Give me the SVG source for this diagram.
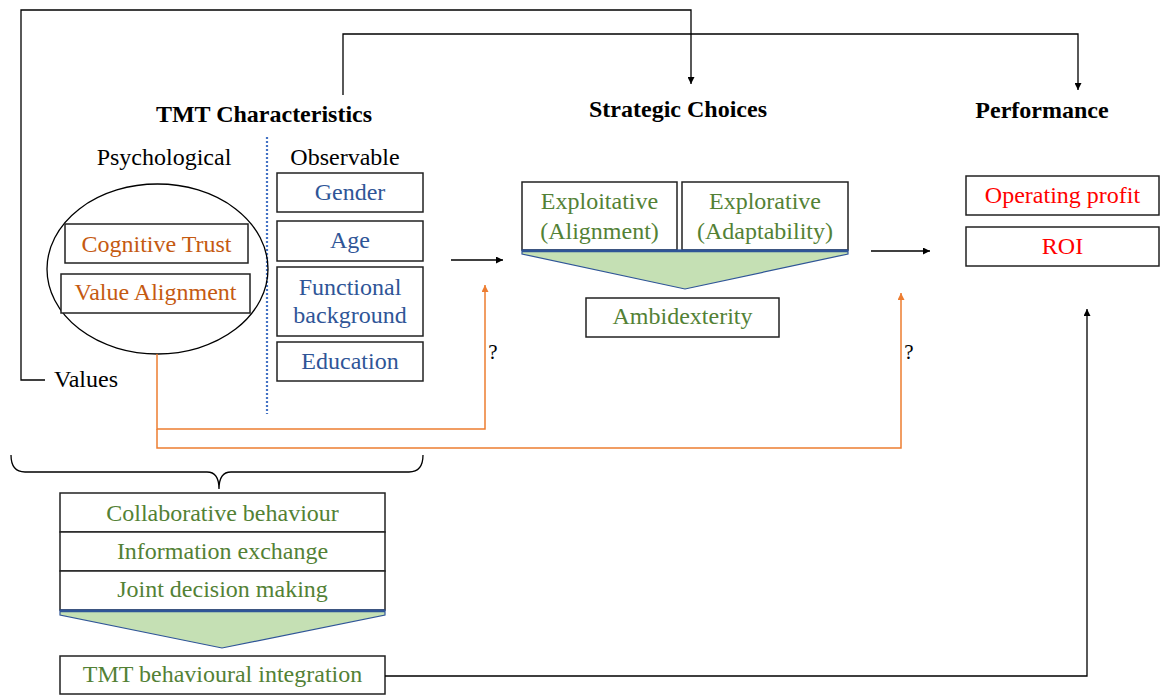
<svg xmlns="http://www.w3.org/2000/svg" width="1163" height="696" viewBox="0 0 1163 696">
  <defs>
    <marker id="ah-black" viewBox="0 0 10 10" refX="10" refY="5" markerWidth="7" markerHeight="7" markerUnits="userSpaceOnUse" orient="auto">
      <path d="M0,0 L10,5 L0,10 z" fill="#000"/>
    </marker>
    <marker id="ah-orange" viewBox="0 0 10 10" refX="10" refY="5" markerWidth="7" markerHeight="7" markerUnits="userSpaceOnUse" orient="auto">
      <path d="M0,0 L10,5 L0,10 z" fill="#ED7D31"/>
    </marker>
    <style>
      text { font-family: "Liberation Serif", "Times New Roman", serif; font-size: 24px; text-anchor: middle; }
      .head { font-weight: bold; fill: #000; }
      .plain { fill: #000; }
      .orange { fill: #C55A11; }
      .blue { fill: #2F5597; }
      .green { fill: #538135; }
      .red { fill: #FF0000; }
      .box { fill: #fff; stroke: #222; stroke-width: 1.5; }
      .funnel { fill: #C5E0B4; stroke: #2F5597; stroke-width: 1.2; }
      .wire { fill: none; stroke: #000; stroke-width: 1.3; }
      .owire { fill: none; stroke: #ED7D31; stroke-width: 1.5; }
    </style>
  </defs>

  <!-- column headers -->
  <g id="headers">
    <text class="head" x="264" y="122">TMT Characteristics</text>
    <text class="head" x="678" y="117">Strategic Choices</text>
    <text class="head" x="1042" y="118">Performance</text>
    <text class="plain" x="164" y="165">Psychological</text>
    <text class="plain" x="345" y="165">Observable</text>
  </g>

  <!-- divider between psychological and observable -->
  <line x1="267" y1="137" x2="267" y2="414" stroke="#4472C4" stroke-width="2.2" stroke-dasharray="2 2"/>

  <!-- psychological characteristics -->
  <g id="psychological">
    <ellipse cx="157.5" cy="269" rx="110.5" ry="85" fill="none" stroke="#000" stroke-width="1.3"/>
    <g id="cognitive-trust">
      <rect class="box" x="65" y="224" width="183" height="39"/>
      <text class="orange" x="156.5" y="252">Cognitive Trust</text>
    </g>
    <g id="value-alignment">
      <rect class="box" x="61" y="274" width="189" height="39"/>
      <text class="orange" x="155.5" y="300">Value Alignment</text>
    </g>
  </g>

  <g id="values">
    <text class="plain" x="86" y="387">Values</text>
  </g>

  <!-- observable characteristics -->
  <g id="gender">
    <rect class="box" x="277" y="173" width="146" height="39"/>
    <text class="blue" x="350" y="200">Gender</text>
  </g>
  <g id="age">
    <rect class="box" x="277" y="221" width="146" height="40"/>
    <text class="blue" x="350" y="248">Age</text>
  </g>
  <g id="functional-background">
    <rect class="box" x="277" y="267" width="146" height="69"/>
    <text class="blue" x="350" y="295">Functional</text>
    <text class="blue" x="350" y="323">background</text>
  </g>
  <g id="education">
    <rect class="box" x="277" y="342" width="146" height="39"/>
    <text class="blue" x="350" y="369">Education</text>
  </g>

  <!-- strategic choices -->
  <g id="exploitative">
    <rect class="box" x="522" y="182" width="155" height="68"/>
    <text class="green" x="599.5" y="209">Exploitative</text>
    <text class="green" x="599.5" y="239">(Alignment)</text>
  </g>
  <g id="explorative">
    <rect class="box" x="682" y="182" width="166" height="68"/>
    <text class="green" x="765" y="209">Explorative</text>
    <text class="green" x="765" y="239">(Adaptability)</text>
  </g>
  <g id="strategy-funnel">
    <path class="funnel" d="M522,250 L848,250 L848,254 L685,289 L522,254 z"/>
    <line x1="522" y1="251" x2="848" y2="251" stroke="#2F5597" stroke-width="2.5"/>
  </g>
  <g id="ambidexterity">
    <rect class="box" x="586" y="298" width="193" height="39"/>
    <text class="green" x="682.5" y="324">Ambidexterity</text>
  </g>

  <!-- performance -->
  <g id="operating-profit">
    <rect class="box" x="966" y="176" width="193" height="39"/>
    <text class="red" x="1062.5" y="203">Operating profit</text>
  </g>
  <g id="roi">
    <rect class="box" x="966" y="227" width="193" height="39"/>
    <text class="red" x="1062.5" y="254">ROI</text>
  </g>

  <!-- behavioural integration -->
  <g id="brace">
    <path class="wire" d="M11,455 Q11,472 25,472 L207,472 Q219,472 219,489 Q219,472 231,472 L409,472 Q423,472 423,455"/>
  </g>
  <g id="collaborative-behaviour">
    <rect class="box" x="60" y="493" width="325" height="39"/>
    <text class="green" x="222.5" y="521">Collaborative behaviour</text>
  </g>
  <g id="information-exchange">
    <rect class="box" x="60" y="532" width="325" height="39"/>
    <text class="green" x="222.5" y="559">Information exchange</text>
  </g>
  <g id="joint-decision-making">
    <rect class="box" x="60" y="571" width="325" height="39"/>
    <text class="green" x="222.5" y="597">Joint decision making</text>
  </g>
  <g id="integration-funnel">
    <path class="funnel" d="M60,610 L385,610 L385,615 L222,648 L60,615 z"/>
    <line x1="60" y1="611" x2="385" y2="611" stroke="#2F5597" stroke-width="2.5"/>
  </g>
  <g id="tmt-behavioural-integration">
    <rect class="box" x="60" y="656" width="325" height="38"/>
    <text class="green" x="222.5" y="682">TMT behavioural integration</text>
  </g>

  <!-- connectors -->
  <g id="connectors">
    <path class="wire" d="M45,380 L21,380 L21,10 L691,10 L691,84" marker-end="url(#ah-black)"/>
    <path class="wire" d="M343,95 L343,34 L1078,34 L1078,90" marker-end="url(#ah-black)"/>
    <path class="wire" d="M451,260 L503,260" marker-end="url(#ah-black)"/>
    <path class="wire" d="M871,251 L930,251" marker-end="url(#ah-black)"/>
    <path class="wire" d="M385,676 L1087,676 L1087,309" marker-end="url(#ah-black)"/>
    <path class="owire" d="M157,354 L157,429 L485,429 L485,285" marker-end="url(#ah-orange)"/>
    <path class="owire" d="M157,429 L157,448 L901,448 L901,293" marker-end="url(#ah-orange)"/>
    <text class="plain" x="493" y="359" style="font-size:21px">?</text>
    <text class="plain" x="909" y="359" style="font-size:21px">?</text>
  </g>
</svg>
